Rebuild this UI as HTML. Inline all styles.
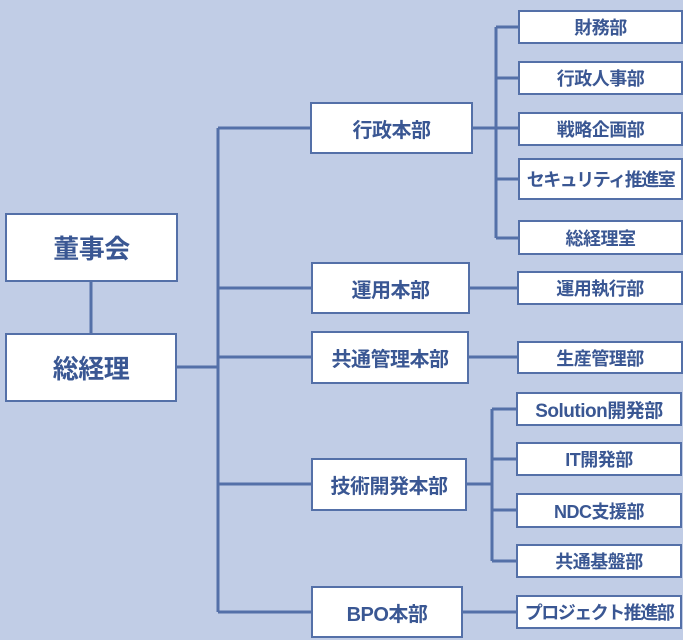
<!DOCTYPE html>
<html><head><meta charset="utf-8"><style>
body{margin:0;width:683px;height:640px;overflow:hidden;background:#c1cde6;position:relative;font-family:"Liberation Sans","Noto Sans CJK JP",sans-serif;}
.b{position:absolute;box-sizing:border-box;background:#fff;border:2.5px solid #5470a8;color:#3a5793;font-weight:bold;display:flex;align-items:center;justify-content:center;white-space:nowrap;letter-spacing:-0.5px;}
.l{font-size:26px}.m{font-size:20px}.s{font-size:18px}
svg{position:absolute;left:0;top:0}
</style></head><body>
<svg width="683" height="640"><g stroke="#5470a8" stroke-width="3" fill="none">
<line x1="91" y1="282" x2="91" y2="333"/>
<line x1="177" y1="367" x2="218" y2="367"/>
<line x1="218" y1="128" x2="218" y2="612"/>
<line x1="218" y1="128" x2="310" y2="128"/>
<line x1="218" y1="288" x2="311" y2="288"/>
<line x1="218" y1="357" x2="311" y2="357"/>
<line x1="218" y1="484" x2="311" y2="484"/>
<line x1="218" y1="612" x2="311" y2="612"/>
<line x1="473" y1="128" x2="496" y2="128"/>
<line x1="496" y1="27" x2="496" y2="238"/>
<line x1="496" y1="27" x2="518" y2="27"/>
<line x1="496" y1="78" x2="518" y2="78"/>
<line x1="496" y1="128" x2="518" y2="128"/>
<line x1="496" y1="179" x2="518" y2="179"/>
<line x1="496" y1="238" x2="518" y2="238"/>
<line x1="470" y1="288" x2="517" y2="288"/>
<line x1="469" y1="357" x2="517" y2="357"/>
<line x1="467" y1="484" x2="492" y2="484"/>
<line x1="492" y1="409" x2="492" y2="561"/>
<line x1="492" y1="409" x2="516" y2="409"/>
<line x1="492" y1="459" x2="516" y2="459"/>
<line x1="492" y1="510" x2="516" y2="510"/>
<line x1="492" y1="561" x2="516" y2="561"/>
<line x1="463" y1="612" x2="516" y2="612"/>
</g></svg>
<div class="b l" style="left:5px;top:213px;width:173px;height:69px">董事会</div>
<div class="b l" style="left:5px;top:333px;width:172px;height:69px">総経理</div>
<div class="b m" style="left:310px;top:102px;width:163px;height:52px">行政本部</div>
<div class="b m" style="left:311px;top:262px;width:159px;height:52px">運用本部</div>
<div class="b m" style="left:311px;top:331px;width:158px;height:53px">共通管理本部</div>
<div class="b m" style="left:311px;top:458px;width:156px;height:53px">技術開発本部</div>
<div class="b m" style="left:311px;top:586px;width:152px;height:52px">BPO本部</div>
<div class="b s" style="left:518px;top:10px;width:165px;height:34px">財務部</div>
<div class="b s" style="left:518px;top:61px;width:165px;height:34px">行政人事部</div>
<div class="b s" style="left:518px;top:112px;width:165px;height:34px">戦略企画部</div>
<div class="b s" style="left:518px;top:158px;width:165px;height:42px;letter-spacing:-1.5px">セキュリティ推進室</div>
<div class="b s" style="left:518px;top:220px;width:165px;height:35px">総経理室</div>
<div class="b s" style="left:517px;top:271px;width:166px;height:34px">運用執行部</div>
<div class="b s" style="left:517px;top:341px;width:166px;height:33px">生産管理部</div>
<div class="b s" style="left:516px;top:392px;width:166px;height:34px;font-size:19px;letter-spacing:-0.5px">Solution開発部</div>
<div class="b s" style="left:516px;top:442px;width:166px;height:34px">IT開発部</div>
<div class="b s" style="left:516px;top:493px;width:166px;height:35px">NDC支援部</div>
<div class="b s" style="left:516px;top:544px;width:166px;height:34px">共通基盤部</div>
<div class="b s" style="left:516px;top:595px;width:166px;height:34px;letter-spacing:-1.5px">プロジェクト推進部</div>
</body></html>
